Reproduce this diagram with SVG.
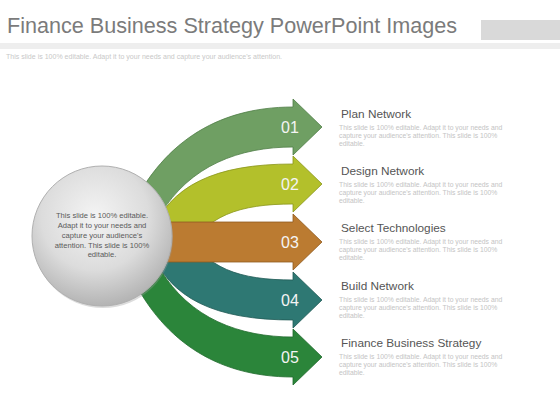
<svg xmlns="http://www.w3.org/2000/svg" width="560" height="420" viewBox="0 0 560 420">
<defs>
<radialGradient id="ball" cx="0.45" cy="0.36" r="0.64">
<stop offset="0" stop-color="#f4f4f4"/>
<stop offset="0.6" stop-color="#dcdcdc"/>
<stop offset="1" stop-color="#b4b4b4"/>
</radialGradient>
<style>
text{font-family:"Liberation Sans",Arial,sans-serif}
.num{font-size:16px;fill:#f4f4f4;text-anchor:middle}
.head{font-size:11.8px;fill:#555}
.desc{font-size:6.8px;fill:#c4c4c4}
.ctext{font-size:7.6px;fill:#5a5a5a;text-anchor:middle}
.arr{stroke-width:0.8;stroke-linejoin:round}
</style>
</defs>
<rect width="560" height="420" fill="#fff"/>
<g id="header">
<text x="7" y="33" font-size="22" fill="#7b7b7b" textLength="450" lengthAdjust="spacingAndGlyphs">Finance Business Strategy PowerPoint Images</text>
<rect x="481" y="20" width="79" height="20" fill="#d9d9d9"/>
<rect x="0" y="43" width="560" height="6" fill="#eeeeee"/>
<text x="6" y="59" font-size="6.3" fill="#c8c8c8" textLength="276" lengthAdjust="spacingAndGlyphs">This slide is 100% editable. Adapt it to your needs and capture your audience's attention.</text>
</g>
<g id="arrow-01">
<path class="arr" fill="#6f9f63" stroke="#4f7d46" d="M128,215 C160,145 215,107 293,107 L293,99 L322,127 L293,155 L293,147 C240,147 190,165 160,215 Z"/>
<text class="num" x="290" y="133">01</text>
</g>
<g id="arrow-05">
<path class="arr" fill="#2b853a" stroke="#1f6a2c" d="M128,269 C160,339 215,377 293,377 L293,385 L322,357 L293,329 L293,337 C240,337 190,319 160,269 Z"/>
<text class="num" x="290" y="363">05</text>
</g>
<g id="arrow-02">
<path class="arr" fill="#b3c02b" stroke="#8a951c" d="M150,235 C170,185 215,164 293,164 L293,156 L322,184 L293,212 L293,204 C240,204 205,215 185,255 Z"/>
<text class="num" x="290" y="190">02</text>
</g>
<g id="arrow-04">
<path class="arr" fill="#2e7873" stroke="#215a56" d="M150,249 C170,299 215,320 293,320 L293,328 L322,300 L293,272 L293,280 C240,280 205,269 185,229 Z"/>
<text class="num" x="290" y="306">04</text>
</g>
<g id="arrow-03">
<path class="arr" fill="#bb7b31" stroke="#8f5b20" d="M140,222 L293,222 L293,214 L322,242 L293,270 L293,262 L140,262 Z"/>
<text class="num" x="290" y="248">03</text>
</g>
<g id="center">
<circle cx="103" cy="238" r="70" fill="#9a9a9a" opacity="0.35"/>
<circle cx="102" cy="236" r="70" fill="url(#ball)" stroke="#b0b0b0" stroke-width="1"/>
<text class="ctext" x="102" y="217.5">This slide is 100% editable.</text>
<text class="ctext" x="102" y="227.5">Adapt it to your needs and</text>
<text class="ctext" x="102" y="237.5">capture your audience's</text>
<text class="ctext" x="102" y="247.5">attention. This slide is 100%</text>
<text class="ctext" x="102" y="257">editable.</text>
</g>
<g id="label-01">
<text class="head" x="341" y="118">Plan Network</text>
<text class="desc" x="339" y="130">This slide is 100% editable. Adapt it to your needs and</text>
<text class="desc" x="339" y="138">capture your audience's attention. This slide is 100%</text>
<text class="desc" x="339" y="146">editable.</text>
</g>
<g id="label-02">
<text class="head" x="341" y="175">Design Network</text>
<text class="desc" x="339" y="187">This slide is 100% editable. Adapt it to your needs and</text>
<text class="desc" x="339" y="195">capture your audience's attention. This slide is 100%</text>
<text class="desc" x="339" y="203">editable.</text>
</g>
<g id="label-03">
<text class="head" x="341" y="232">Select Technologies</text>
<text class="desc" x="339" y="244">This slide is 100% editable. Adapt it to your needs and</text>
<text class="desc" x="339" y="252">capture your audience's attention. This slide is 100%</text>
<text class="desc" x="339" y="260">editable.</text>
</g>
<g id="label-04">
<text class="head" x="341" y="290">Build Network</text>
<text class="desc" x="339" y="302">This slide is 100% editable. Adapt it to your needs and</text>
<text class="desc" x="339" y="310">capture your audience's attention. This slide is 100%</text>
<text class="desc" x="339" y="318">editable.</text>
</g>
<g id="label-05">
<text class="head" x="341" y="347">Finance Business Strategy</text>
<text class="desc" x="339" y="359">This slide is 100% editable. Adapt it to your needs and</text>
<text class="desc" x="339" y="367">capture your audience's attention. This slide is 100%</text>
<text class="desc" x="339" y="375">editable.</text>
</g>
</svg>
